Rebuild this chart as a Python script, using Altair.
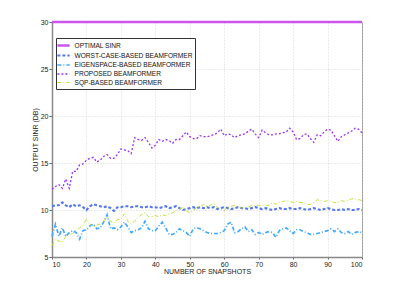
import altair as alt
import pandas as pd

snapshots = list(range(10, 101))

series_names = [
    "OPTIMAL SINR",
    "WORST-CASE-BASED BEAMFORMER",
    "EIGENSPACE-BASED BEAMFORMER",
    "PROPOSED BEAMFORMER",
    "SQP-BASED BEAMFORMER",
]

optimal = [30.0] * len(snapshots)

worst_case = [
    10.4, 10.5, 10.5, 10.8, 10.5, 10.3, 10.6, 10.4, 10.5, 10.3, 10.0, 10.4, 10.6, 10.5, 10.4, 10.3,
    10.4, 10.2, 9.9, 10.3, 10.3, 10.4, 10.4, 10.3, 10.4, 10.4, 10.3, 10.3, 10.4, 10.3, 10.3,
    10.2, 10.3, 10.4, 10.2, 10.3, 10.4, 10.2, 10.0, 10.1, 10.2, 10.3, 10.2, 10.3, 10.2, 10.3,
    10.2, 10.3, 10.1, 10.2, 10.3, 10.2, 10.1, 10.2, 10.3, 10.2, 10.2, 10.1, 10.2, 10.3, 10.2,
    10.1, 10.2, 10.1, 10.0, 10.1, 10.2, 10.1, 10.1, 10.2, 10.1, 10.1, 10.2, 10.1, 10.0, 10.1,
    10.2, 10.1, 10.0, 10.1, 10.2, 10.1, 10.0, 10.0, 10.1, 10.0, 10.1, 10.0, 10.0, 10.1, 10.0,
]

eigenspace = [
    7.2, 8.5, 7.2, 8.1, 7.2, 7.6, 7.8, 7.6, 6.9, 7.8, 7.9, 8.3, 8.5, 8.0, 8.1, 8.7,
    9.5, 8.0, 8.1, 7.9, 8.2, 8.7, 8.2, 7.6, 7.8, 7.9, 8.1, 8.8, 8.0, 7.8, 7.8,
    8.3, 8.7, 8.1, 7.4, 7.4, 7.6, 8.0, 7.8, 7.6, 7.2, 8.0, 8.1, 8.0, 7.8, 7.6,
    7.5, 7.5, 7.5, 7.6, 7.8, 8.5, 8.7, 7.6, 7.7, 8.0, 8.2, 7.7, 7.9, 7.4, 7.6,
    7.4, 7.6, 7.7, 7.6, 7.1, 7.8, 8.0, 8.1, 7.8, 7.5, 7.9, 7.9, 7.7, 7.6, 7.4,
    7.4, 7.5, 7.6, 7.7, 7.8, 8.0, 7.7, 8.0, 7.6, 7.5, 7.7, 7.4, 7.6, 7.7, 7.6,
]

proposed = [
    12.2, 12.5, 12.7, 12.3, 13.3, 12.3, 14.1, 14.1, 14.8, 14.9, 15.3, 15.5, 15.6, 15.1, 15.3, 15.7,
    15.9, 15.5, 15.5, 15.9, 16.5, 16.4, 16.3, 16.0, 17.7, 17.5, 17.4, 17.7, 17.2, 16.6, 16.9,
    17.5, 17.3, 17.5, 17.4, 17.1, 17.5, 17.5, 17.9, 18.3, 17.8, 17.6, 17.6, 17.9, 17.8, 17.8,
    17.9, 18.0, 18.2, 18.6, 17.9, 18.1, 18.0, 17.7, 17.9, 18.0, 18.1, 18.4, 18.6, 18.1, 17.7,
    18.5, 18.2, 18.0, 18.0, 18.1, 18.1, 18.2, 18.3, 18.7, 18.3, 17.5, 17.6, 18.0, 18.1, 17.6,
    17.2, 18.0, 17.9, 18.3, 18.6, 18.5, 17.9, 17.3, 17.8, 18.0, 18.2, 18.4, 18.7, 18.6, 18.2,
]

sqp = [
    6.2, 6.9, 6.7, 6.6, 7.2, 7.4, 7.5, 7.9, 8.1, 8.4, 9.0, 8.5, 8.2, 8.4, 8.5, 8.8,
    9.3, 8.8, 8.6, 9.0, 9.0, 9.6, 8.8, 8.5, 8.8, 9.2, 9.5, 9.7, 9.3, 9.3, 9.4,
    9.3, 9.5, 9.4, 9.6, 9.7, 9.9, 10.1, 10.3, 9.9, 9.7, 9.9, 10.3, 10.3, 10.6, 10.4,
    10.5, 10.7, 10.3, 10.1, 9.9, 10.3, 10.4, 10.5, 10.3, 10.2, 10.3, 10.3, 10.5, 10.5, 10.5,
    10.5, 10.5, 10.5, 10.8, 10.6, 10.8, 10.9, 11.0, 10.9, 10.8, 10.9, 10.8, 10.8, 10.6, 10.6,
    10.8, 11.1, 11.0, 10.9, 11.0, 10.9, 10.8, 10.8, 11.0, 10.9, 11.0, 11.2, 11.2, 11.1, 11.0,
]

series_values = [optimal, worst_case, eigenspace, proposed, sqp]
colors = ["#CC55EE", "#5577F0", "#44AAFF", "#9933FF", "#BBDD22"]
dashes = [[1, 0], [3, 2], [4, 2, 1, 2], [2, 2], [4, 2, 1, 2]]
widths = [2.5, 0.9, 1.0, 2.0, 1.6]

x_ticks = list(range(10, 101, 10))
y_ticks = [5, 10, 15, 20, 25, 30]

rows = []
for name, vals in zip(series_names, series_values):
    assert len(vals) == len(snapshots), (name, len(vals))
    for s, v in zip(snapshots, vals):
        rows.append({"snapshots": s, "sinr": v, "series": name})
df = pd.DataFrame(rows)

FONT = "Liberation Sans"

legend_common = dict(
    orient="none",
    legendX=4,
    legendY=16,
    title=None,
    symbolType="M-1.75,0H1.75",
    symbolSize=49,
    symbolStrokeWidth=1.0,
    labelFontSize=6.6,
    labelFont=FONT,
    labelColor="#111",
    fillColor="white",
    strokeColor="#333",
    padding=2.5,
    rowPadding=-0.9,
    labelOffset=6,
)

chart = (
    alt.Chart(df)
    .mark_line(clip=False)
    .encode(
        x=alt.X(
            "snapshots:Q",
            scale=alt.Scale(domain=[10, 100], nice=False),
            axis=alt.Axis(
                values=x_ticks,
                title="NUMBER OF SNAPSHOTS",
                titlePadding=0,
                labelPadding=1,
                tickSize=2,
            ),
        ),
        y=alt.Y(
            "sinr:Q",
            scale=alt.Scale(domain=[5, 30], nice=False, zero=False),
            axis=alt.Axis(
                values=y_ticks,
                title="OUTPUT SINR (DB)",
                titlePadding=2,
                labelPadding=1,
                tickSize=3,
            ),
        ),
        color=alt.Color(
            "series:N",
            scale=alt.Scale(domain=series_names, range=colors),
            sort=series_names,
            legend=alt.Legend(**legend_common),
        ),
        strokeDash=alt.StrokeDash(
            "series:N",
            scale=alt.Scale(domain=series_names, range=dashes),
            sort=series_names,
            legend=alt.Legend(**legend_common),
        ),
        strokeWidth=alt.StrokeWidth(
            "series:N",
            scale=alt.Scale(domain=series_names, range=widths),
            legend=None,
        ),
        detail="series:N",
    )
    .properties(
        width=310,
        height=235,
        autosize=alt.AutoSizeParams(type="none"),
        padding={"left": 44, "top": 14, "right": 30, "bottom": 26},
    )
    .configure_view(stroke="#999", strokeWidth=1)
    .configure_axis(
        grid=True,
        gridColor="#cccccc",
        gridDash=[1, 2],
        gridWidth=0.8,
        domainColor="#888",
        domainWidth=1.5,
        tickColor="#666",
        labelFont=FONT,
        labelFontSize=7,
        labelColor="#222",
        titleFont=FONT,
        titleFontSize=7,
        titleFontWeight="normal",
        titleColor="#222",
    )
)

chart.save("out.html", embed_options={"renderer": "svg", "actions": False})
